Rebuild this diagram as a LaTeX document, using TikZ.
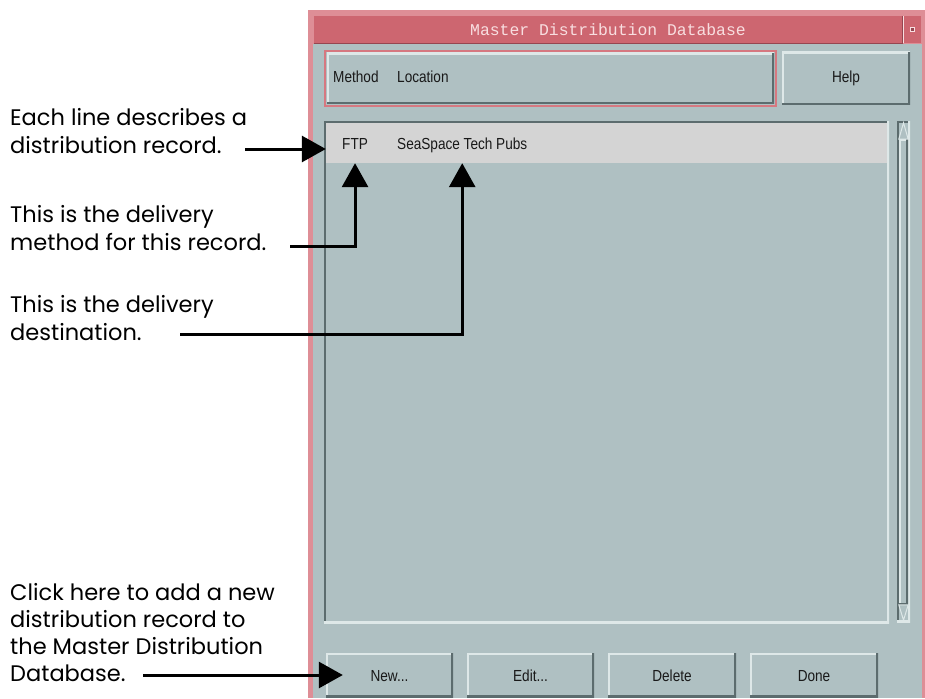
\documentclass[tikz,border=0pt]{standalone}
\usepackage{fontspec}
\usetikzlibrary{arrows.meta,fit}

\newfontfamily\annofont{Poppins}
\newfontfamily\guifont[FakeStretch=0.85]{Liberation Sans}
\newfontfamily\titlefont{Liberation Mono}

\definecolor{body}{RGB}{175,192,194}
\definecolor{rowhi}{RGB}{212,212,212}
\definecolor{bevlight}{RGB}{222,232,232}
\definecolor{bevdark}{RGB}{92,108,110}
\definecolor{frame}{RGB}{222,142,150}
\definecolor{focus}{RGB}{214,120,128}
\definecolor{titlebg}{RGB}{205,102,112}
\definecolor{titleline}{RGB}{150,70,80}
\definecolor{titletext}{RGB}{248,222,224}
\definecolor{guitext}{RGB}{25,25,25}

\tikzset{
  anno/.style={font=\annofont\fontsize{22.5}{28}\selectfont, align=left,
    inner sep=0pt, anchor=base west},
  gui/.style={font=\guifont\fontsize{16}{18}\selectfont, text=guitext, inner sep=0pt},
  raised/.style={fill=body, inner sep=0pt, path picture={
    \draw[bevlight, line width=4pt]
      (path picture bounding box.south west) -- (path picture bounding box.north west)
      -- (path picture bounding box.north east);
    \draw[bevdark, line width=4pt]
      (path picture bounding box.north east) -- (path picture bounding box.south east)
      -- (path picture bounding box.south west);}},
  sunken/.style={fill=body, inner sep=0pt, path picture={
    \draw[bevdark, line width=4pt]
      (path picture bounding box.south west) -- (path picture bounding box.north west)
      -- (path picture bounding box.north east);
    \draw[bevlight, line width=4pt]
      (path picture bounding box.north east) -- (path picture bounding box.south east)
      -- (path picture bounding box.south west);}},
  arr/.style={line width=3pt, -{Triangle[length=24pt,width=26pt]}},
}

\begin{document}
\begin{tikzpicture}[x=1pt, y=-1pt]
\useasboundingbox (0,0) rectangle (925,698);

% window frame and body
\node[fill=frame, inner sep=0pt, fit={(308,10) (925,698)}] (win) {};
\node[fill=body, inner sep=0pt, fit={(313,44) (922,698)}] (client) {};

% title bar
\node[fill=titlebg, inner sep=0pt, fit={(314,16) (902,43)}] (title) {};
\draw[titleline, line width=1pt] (title.south west) -- (title.south east) -- (title.north east);
\node[font=\titlefont\fontsize{16.4}{18}\selectfont, text=titletext, inner sep=0pt]
      (titletxt) at (title.center) {Master Distribution Database};
\node[fill=titlebg, inner sep=0pt, fit={(904,16) (921,43)}] (tbtn) {};
\draw[titletext, line width=0.8pt] (tbtn.south west) -- (tbtn.north west);
\node[draw=titletext, fill=titleline, line width=0.6pt, minimum size=4pt, inner sep=0pt]
      (tbtnmark) at (tbtn.center) {};

% header button with focus ring, and Help
\node[draw=focus, line width=2pt, inner sep=0pt, fit={(325,51) (776,106)}] (focusring) {};
\node[raised, fit={(327,53) (774,104)}] (header) {};
\node[gui, anchor=base west] (hmethod) at (333,83) {Method};
\node[gui, anchor=base west] (hloc) at (397,83) {Location};
\node[raised, fit={(782,52) (910,105)}] (help) {};
\node[gui, anchor=base] (helptxt) at (help.center |- hmethod.base) {Help};

% list area with the selected record
\node[sunken, fit={(324,121) (889,623)}] (list) {};
\node[fill=rowhi, inner sep=0pt, fit={(326,123) (887,163)}] (row) {};
\node[gui, anchor=base west] (ftp) at (342,149) {FTP};
\node[gui, anchor=base west] (loc) at (397,149) {SeaSpace Tech Pubs};

% scroll bar
\node[sunken, fit={(897,121) (910,622)}] (trough) {};
\node[raised, fit={(899,139) (908,605)}] (slider) {};
\node[fill=body, inner sep=0pt, fit={(899,123) (908,139)}] (upbtn) {};
\draw[bevlight, line width=1pt] (upbtn.south west) -- (upbtn.north) -- (upbtn.south east) -- cycle;
\node[fill=body, inner sep=0pt, fit={(899,605) (908,620)}] (dnbtn) {};
\draw[bevlight, line width=1pt] (dnbtn.north west) -- (dnbtn.south) -- (dnbtn.north east) -- cycle;

% bottom buttons
\node[raised, fit={(326,653) (453,697)}] (new) {};
\node[raised, fit={(467,653) (594,697)}] (edit) {};
\node[raised, fit={(608,653) (736,697)}] (delete) {};
\node[raised, fit={(750,653) (878,697)}] (done) {};
\node[gui, anchor=base] (newtxt) at ([yshift=-6pt]new.center) {New...};
\node[gui, anchor=base] (edittxt) at ([yshift=-6pt]edit.center) {Edit...};
\node[gui, anchor=base] (deletetxt) at ([yshift=-6pt]delete.center) {Delete};
\node[gui, anchor=base] (donetxt) at ([yshift=-6pt]done.center) {Done};

% annotations (anchored at the baseline of their last line)
\node[anno] (t1) at (10,153) {Each line describes a\\distribution record.};
\node[anno] (t2) at (10,250) {This is the delivery\\method for this record.};
\node[anno] (t3) at (10,340) {This is the delivery\\destination.};
\node[anno, font=\annofont\fontsize{22.5}{27}\selectfont] (t4) at (10,681)
  {Click here to add a new\\distribution record to\\the Master Distribution\\Database.};

\coordinate (s1) at (245,149);
\coordinate (s2) at (290,246);
\coordinate (s3) at (180,334);
\coordinate (s4) at (143,675);

\draw[arr] (s1) -- (row.west |- s1);
\draw[arr] (s2) -| (ftp.south |- row.south);
\draw[arr] (s3) -| (loc.south |- row.south);
\draw[arr] (s4) -- ([xshift=17pt]new.west);
\end{tikzpicture}
\end{document}
